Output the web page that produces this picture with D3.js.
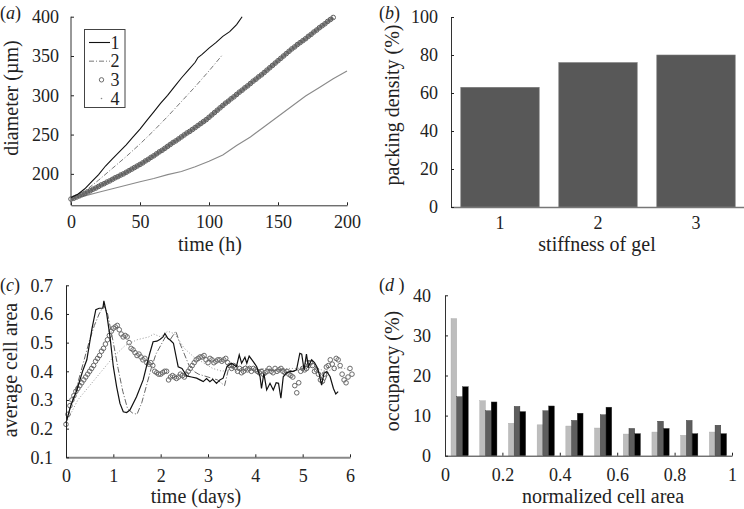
<!DOCTYPE html>
<html><head><meta charset="utf-8">
<script src="https://cdn.jsdelivr.net/npm/d3@7"></script>
<style>
html,body{margin:0;padding:0;background:#fff;}
svg{display:block;}
svg text{font-family:"Liberation Serif","DejaVu Serif",serif !important;fill:#222;}
</style></head><body>
<svg id="chart" width="744" height="509"></svg>
<script>
// ---------- DATA ----------
// Panel (a): diameter (um) vs time (h)
const aS1 = [[0,170],[5,174],[10,181],[15,190],[20,199],[25,210],[30,219],[35,228],[40,237],[45,247],[50,257],[55,268],[60,279],[65,290],[70,300],[75,311],[80,322],[85,332],[90,342],[92,348],[95,352],[100,360],[105,367],[110,375],[115,381],[120,390],[124,400]];
const aS2 = [[0,170],[10,178],[20,192],[30,207],[40,222],[50,238],[60,255],[70,273],[80,292],[90,311],[100,331],[110,352]];
const aS3 = [168,169,170.5,172,173.5,175,177,178.5,180.5,182,184,186,187.5,189.5,191,193,195,196.5,198.5,200,202,204,206,208,210,212,214,216.5,218.5,221,223,225.5,228,230,232.5,235,237.5,240,242,244.5,247,249.5,252,254,256.5,259,261.5,264,266.5,269,272,275,278,281,284,287,290,292.5,295.5,298,301,304,306.5,309.5,312,315,318,320.5,323.5,326,329,332,335,338,341,344,347,350,353,356,359,361.5,364.5,367,369.5,372,375,377.5,380.5,383,386,388.5,391,394,396.5,399];
const aS3Time = d3.range(0, 192, 2);
const aS4 = [[0,168],[10,172],[20,176.5],[30,181],[40,185.5],[50,190],[60,194],[70,199],[80,203],[90,209],[100,216],[110,224],[120,236],[130,247],[140,260],[150,273],[160,286],[170,299],[180,310],[190,321],[200,331]];
const aXTicks = [0,50,100,150,200];
const aYTicks = [200,250,300,350,400];
const aLegend = ["1","2","3","4"];

// Panel (b): packing density
const bCategories = ["1","2","3"];
const bValues = [63, 76, 80];
const bYTicks = [0,20,40,60,80,100];

// Panel (c): average cell area vs time (days)
const cS1 = [[0,0.22],[0.05,0.25],[0.1,0.28],[0.23,0.335],[0.35,0.4],[0.44,0.44],[0.55,0.55],[0.63,0.615],[0.7,0.62],[0.78,0.62],[0.8,0.646],[0.86,0.6],[0.93,0.52],[1.0,0.416],[1.07,0.346],[1.14,0.288],[1.21,0.259],[1.28,0.256],[1.35,0.265],[1.49,0.311],[1.63,0.37],[1.77,0.463],[1.84,0.503],[1.92,0.505],[1.99,0.512],[2.05,0.52],[2.09,0.532],[2.15,0.515],[2.2,0.509],[2.27,0.498],[2.34,0.44],[2.37,0.416],[2.45,0.41],[2.55,0.384],[2.65,0.38],[2.76,0.376],[2.83,0.37],[2.9,0.364],[2.97,0.375],[3.04,0.364],[3.1,0.372],[3.18,0.358],[3.25,0.37],[3.32,0.376],[3.4,0.416],[3.5,0.428],[3.6,0.416],[3.66,0.457],[3.71,0.428],[3.78,0.449],[3.82,0.428],[3.87,0.453],[3.96,0.433],[4.03,0.416],[4.1,0.381],[4.13,0.34],[4.18,0.393],[4.24,0.335],[4.31,0.358],[4.38,0.335],[4.44,0.36],[4.49,0.358],[4.54,0.306],[4.59,0.381],[4.66,0.395],[4.73,0.399],[4.8,0.4],[4.87,0.405],[4.94,0.463],[4.98,0.46],[5.03,0.405],[5.08,0.46],[5.12,0.416],[5.19,0.44],[5.25,0.43],[5.3,0.416],[5.35,0.39],[5.4,0.352],[5.45,0.393],[5.51,0.399],[5.58,0.381],[5.65,0.34],[5.7,0.321],[5.75,0.329]];
const cS2 = [[0,0.22],[0.1,0.28],[0.2,0.33],[0.3,0.39],[0.4,0.45],[0.5,0.51],[0.6,0.56],[0.7,0.6],[0.8,0.63],[0.88,0.6],[1.0,0.5],[1.1,0.41],[1.2,0.33],[1.3,0.27],[1.4,0.255],[1.5,0.25],[1.6,0.29],[1.7,0.35],[1.8,0.41],[1.9,0.46],[2.0,0.49],[2.1,0.52],[2.2,0.51],[2.32,0.54],[2.4,0.5],[2.5,0.46],[2.6,0.42],[2.7,0.4],[2.8,0.39],[3.0,0.38],[3.2,0.37],[3.35,0.35],[3.45,0.42],[3.6,0.4],[3.8,0.42],[4.0,0.4],[4.2,0.41],[4.4,0.4],[4.6,0.41],[4.8,0.4],[5.0,0.41],[5.1,0.44],[5.2,0.43],[5.3,0.41],[5.45,0.36],[5.55,0.4]];
const cS3 = [0.215,0.25,0.28,0.30,0.315,0.33,0.34,0.35,0.36,0.37,0.38,0.39,0.40,0.41,0.42,0.435,0.445,0.455,0.47,0.48,0.495,0.51,0.525,0.54,0.55,0.555,0.56,0.545,0.53,0.52,0.525,0.52,0.50,0.48,0.475,0.465,0.455,0.46,0.45,0.44,0.445,0.43,0.425,0.43,0.42,0.40,0.395,0.39,0.39,0.395,0.40,0.40,0.37,0.38,0.385,0.38,0.375,0.38,0.39,0.385,0.38,0.39,0.40,0.41,0.42,0.43,0.44,0.445,0.45,0.45,0.455,0.44,0.43,0.445,0.44,0.43,0.435,0.44,0.44,0.435,0.44,0.445,0.43,0.42,0.41,0.42,0.415,0.40,0.41,0.395,0.40,0.41,0.405,0.41,0.40,0.41,0.405,0.40,0.395,0.40,0.39,0.395,0.40,0.41,0.40,0.395,0.41,0.40,0.405,0.41,0.40,0.395,0.40,0.39,0.385,0.38,0.35,0.325,0.36,0.40,0.41,0.405,0.41,0.42,0.43,0.42,0.40,0.405,0.39,0.37,0.365,0.39,0.415,0.42,0.44,0.425,0.41,0.445,0.44,0.42,0.39,0.37,0.36,0.38,0.41,0.39];
const cS3Time = cS3.map((v, i) => i / 24);
const cS4 = [[0,0.22],[0.25,0.3],[0.5,0.35],[0.75,0.4],[1.0,0.45],[1.25,0.49],[1.5,0.51],[1.75,0.52],[1.85,0.53],[2.0,0.52],[2.15,0.54],[2.3,0.53],[2.5,0.48],[2.7,0.45],[2.9,0.43],[3.1,0.41],[3.3,0.4],[3.5,0.41],[3.7,0.4],[3.9,0.41],[4.1,0.4],[4.3,0.41],[4.5,0.4],[4.7,0.41],[4.9,0.41],[5.1,0.42],[5.3,0.41],[5.5,0.4],[5.7,0.41],[5.9,0.41],[6.0,0.4]];
const cXTicks = [0,1,2,3,4,5,6];
const cYTicks = [0.1,0.2,0.3,0.4,0.5,0.6,0.7];

// Panel (d): occupancy histogram
const dBins = [0,0.1,0.2,0.3,0.4,0.5,0.6,0.7,0.8,0.9];
const dSeries1 = [34.2,13.7,8.1,7.7,7.4,6.9,5.4,5.9,5.1,5.9];
const dSeries2 = [14.7,11.2,12.3,11.2,8.8,10.2,6.8,8.6,8.8,7.6];
const dSeries3 = [17.2,13.4,11.0,12.4,10.6,12.1,5.5,6.8,5.5,5.5];
const dXTicks = [0,0.2,0.4,0.6,0.8,1];
const dYTicks = [0,10,20,30,40];

// ---------- DRAW ----------
const svg = d3.select("#chart");
const TICKFS = 18, TITLEFS = 20, TXT = "#222";

function panelLabel(x, y, letter, trail) {
  const t = svg.append("text").attr("x", x).attr("y", y)
    .attr("font-size", 18).attr("fill", TXT);
  t.append("tspan").text("(");
  t.append("tspan").attr("font-style", "italic").text(letter + (trail || ""));
  t.append("tspan").text(")");
}
function styleAxis(g, lineColor, lineWidth, tickColor) {
  g.attr("font-family", null).attr("font-size", null);
  g.selectAll(".domain").attr("stroke", lineColor).attr("stroke-width", lineWidth);
  g.selectAll(".tick line").attr("stroke", tickColor || "#222");
  g.selectAll(".tick text").attr("font-size", TICKFS).attr("fill", TXT);
}
function yTitle(x, y, txt) {
  svg.append("text").attr("transform", `translate(${x},${y}) rotate(-90)`)
    .attr("text-anchor", "middle").attr("font-size", TITLEFS).attr("fill", TXT).text(txt);
}
function xTitle(x, y, txt) {
  svg.append("text").attr("x", x).attr("y", y)
    .attr("text-anchor", "middle").attr("font-size", TITLEFS).attr("fill", TXT).text(txt);
}

// ===== Panel (a) =====
{
  const x = d3.scaleLinear().domain([0, 200]).range([71, 347]);
  const y = d3.scaleLinear().domain([160, 400]).range([205.3, 16.7]);
  const gx = svg.append("g").attr("transform", `translate(0,${y(160)})`)
    .call(d3.axisBottom(x).tickValues(aXTicks).tickSizeInner(-3).tickSizeOuter(0).tickPadding(10));
  styleAxis(gx, "#333", 1);
  const gy = svg.append("g").attr("transform", `translate(${x(0)},0)`)
    .call(d3.axisLeft(y).tickValues(aYTicks).tickSizeInner(-3).tickSizeOuter(0).tickPadding(12));
  styleAxis(gy, "#333", 1);
  gy.select(".domain").attr("d", `M0,${y(160)}V${y(400)}`);

  const line = d3.line().x(d => x(d[0])).y(d => y(d[1]));
  svg.append("path").datum(aS4).attr("d", line).attr("fill", "none").attr("stroke", "#8a8a8a").attr("stroke-width", 1.1);
  const s3 = aS3.map((v, i) => [aS3Time[i], v]);
  svg.append("path").datum(s3).attr("d", line).attr("fill", "none").attr("stroke", "#7a7a7a").attr("stroke-width", 3.2);
  svg.append("g").selectAll("circle").data(s3).join("circle")
    .attr("cx", d => x(d[0])).attr("cy", d => y(d[1])).attr("r", 2.3)
    .attr("fill", "none").attr("stroke", "#5f5f5f").attr("stroke-width", 1);
  svg.append("path").datum(aS2).attr("d", line).attr("fill", "none").attr("stroke", "#777")
    .attr("stroke-width", 1).attr("stroke-dasharray", "5,2,1,2");
  svg.append("path").datum(aS1).attr("d", line).attr("fill", "none").attr("stroke", "#111").attr("stroke-width", 1.1);

  // legend
  const lg = svg.append("g");
  lg.append("rect").attr("x", 84.5).attr("y", 29.5).attr("width", 40.5).attr("height", 78)
    .attr("fill", "#fff").attr("stroke", "#444").attr("stroke-width", 1);
  const ly = d3.scalePoint().domain(aLegend).range([42.5, 98.5]);
  aLegend.forEach((k, i) => {
    const yy = ly(k);
    if (i === 0) lg.append("line").attr("x1", 89).attr("x2", 110).attr("y1", yy).attr("y2", yy).attr("stroke", "#111").attr("stroke-width", 1.1);
    if (i === 1) lg.append("line").attr("x1", 89).attr("x2", 110).attr("y1", yy).attr("y2", yy).attr("stroke", "#777").attr("stroke-dasharray", "5,2,1,2");
    if (i === 2) lg.append("circle").attr("cx", 101.5).attr("cy", yy).attr("r", 2.2).attr("fill", "none").attr("stroke", "#6a6a6a");
    if (i === 3) lg.append("circle").attr("cx", 101.5).attr("cy", yy).attr("r", 0.8).attr("fill", "#888");
    lg.append("text").attr("x", 110.5).attr("y", yy + 6).attr("font-size", TICKFS).attr("fill", TXT).text(k);
  });
  panelLabel(0, 19, "a");
  yTitle(18, 98, "diameter (µm)");
  xTitle(210, 251, "time (h)");
}

// ===== Panel (b) =====
{
  const x = d3.scaleBand().domain(bCategories).range([451, 745]).paddingInner(0.2).paddingOuter(0.1);
  const y = d3.scaleLinear().domain([0, 100]).range([207, 17]);
  svg.append("g").selectAll("rect").data(bValues).join("rect")
    .attr("x", (d, i) => x(bCategories[i])).attr("width", x.bandwidth())
    .attr("y", d => y(d)).attr("height", d => y(0) - y(d))
    .attr("fill", "#585858").attr("stroke", "#7a7a7a").attr("stroke-width", 0.6);
  const gx = svg.append("g").attr("transform", `translate(0,${y(0)})`)
    .call(d3.axisBottom(x).tickSize(0).tickPadding(9));
  styleAxis(gx, "#777", 1.6);
  const gy = svg.append("g").attr("transform", `translate(451,0)`)
    .call(d3.axisLeft(y).tickValues(bYTicks).tickSizeInner(-3).tickSizeOuter(0).tickPadding(13));
  styleAxis(gy, "#333", 1);
  panelLabel(379, 19, "b");
  yTitle(399, 105, "packing density (%)");
  xTitle(597, 251, "stiffness of gel");
}

// ===== Panel (c) =====
{
  const x = d3.scaleLinear().domain([0, 6]).range([66, 350]);
  const y = d3.scaleLinear().domain([0.1, 0.7]).range([457.3, 285.3]);
  const line = d3.line().x(d => x(d[0])).y(d => y(d[1]));
  svg.append("path").datum(cS4).attr("d", line).attr("fill", "none").attr("stroke", "#999")
    .attr("stroke-width", 1).attr("stroke-dasharray", "1,2");
  svg.append("path").datum(cS2).attr("d", line).attr("fill", "none").attr("stroke", "#666")
    .attr("stroke-width", 1).attr("stroke-dasharray", "6,2,1,2");
  svg.append("g").selectAll("circle").data(cS3).join("circle")
    .attr("cx", (d, i) => x(cS3Time[i])).attr("cy", d => y(d)).attr("r", 2.3)
    .attr("fill", "none").attr("stroke", "#6a6a6a").attr("stroke-width", 1);
  svg.append("path").datum(cS1).attr("d", line).attr("fill", "none").attr("stroke", "#111").attr("stroke-width", 1.2);

  const gx = svg.append("g").attr("transform", `translate(0,${y(0.1)})`)
    .call(d3.axisBottom(x).tickValues(cXTicks).tickFormat(d3.format("d")).tickSizeInner(-3).tickSizeOuter(0).tickPadding(12));
  styleAxis(gx, "#888", 2);
  const gy = svg.append("g").attr("transform", `translate(66,0)`)
    .call(d3.axisLeft(y).tickValues(cYTicks).tickFormat(d3.format(".1f")).tickSizeInner(-3).tickSizeOuter(0).tickPadding(13));
  styleAxis(gy, "#222", 1);
  panelLabel(0, 291, "c");
  yTitle(17, 370, "average cell area");
  xTitle(196, 503, "time (days)");
}

// ===== Panel (d) =====
{
  const x = d3.scaleLinear().domain([0, 1]).range([445, 732]);
  const y = d3.scaleLinear().domain([0, 40]).range([455.7, 295.3]);
  const binW = x(0.1) - x(0);
  const sub = d3.scaleBand().domain([0, 1, 2]).range([0.21 * binW, 0.81 * binW]);
  const colors = ["#bdbdbd", "#5e5e5e", "#000"];
  [dSeries1, dSeries2, dSeries3].forEach((s, k) => {
    svg.append("g").selectAll("rect").data(s).join("rect")
      .attr("x", (d, i) => x(dBins[i]) + sub(k)).attr("width", sub.bandwidth())
      .attr("y", d => y(d)).attr("height", d => y(0) - y(d))
      .attr("fill", colors[k]).attr("stroke", k === 0 ? "#aaa" : "#333").attr("stroke-width", 0.4);
  });
  const gx = svg.append("g").attr("transform", `translate(0,${y(0)})`)
    .call(d3.axisBottom(x).tickValues(dXTicks).tickFormat(d => d === 0 ? "0" : d === 1 ? "1" : d3.format(".1f")(d)).tickSizeInner(-3).tickSizeOuter(0).tickPadding(13));
  styleAxis(gx, "#333", 1);
  const gy = svg.append("g").attr("transform", `translate(445,0)`)
    .call(d3.axisLeft(y).tickValues(dYTicks).tickSizeInner(-3).tickSizeOuter(0).tickPadding(14));
  styleAxis(gy, "#333", 1);
  panelLabel(379, 291, "d", " ");
  yTitle(399, 371, "occupancy (%)");
  xTitle(603, 503, "normalized cell area");
}
</script>
</body></html>
